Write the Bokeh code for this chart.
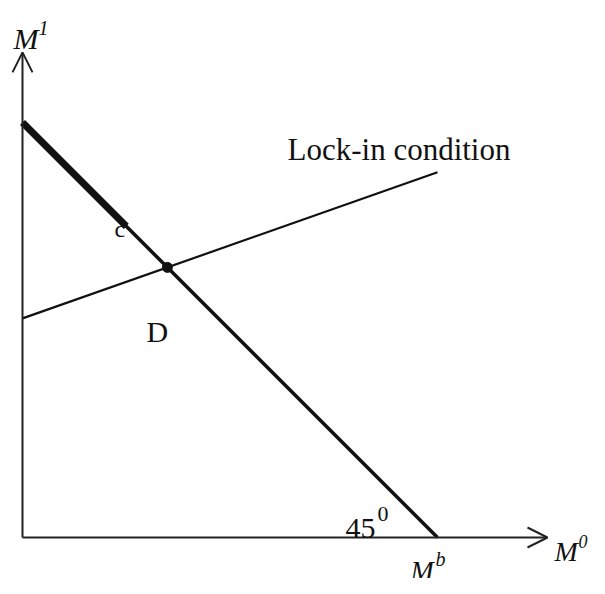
from bokeh.plotting import figure
from bokeh.models import Range1d, Arrow, OpenHead, Label
from bokeh.embed import file_html
from bokeh.resources import INLINE

# ---- data (abstract units) ----
m_b = 10.0                     # intercept of the 45-degree line on both axes
budget_x = [0.0, m_b]
budget_y = [m_b, 0.0]
thick_end_x = 2.5              # end of the emphasised part of the 45-degree line
lock_x = [0.0, 10.0]
lock_y = [5.28, 8.8]           # lock-in condition line
axis_x_max = 12.65
axis_y_max = 11.69

slope = (lock_y[1] - lock_y[0]) / (lock_x[1] - lock_x[0])
ix = (m_b - lock_y[0]) / (1.0 + slope)
iy = m_b - ix

# ---- layout helpers ----
W, H = 589, 578
S = 41.5            # px per unit
OX, OY = 22, 537    # origin in figure pixels


def d(px, py):
    """pixel position -> data coords"""
    return (px - OX) / S, (OY - py) / S


p = figure(width=W, height=H, output_backend="svg", toolbar_location=None,
           x_range=Range1d(-OX / S, (W - OX) / S),
           y_range=Range1d(-(H - OY) / S, OY / S),
           x_axis_location=None, y_axis_location=None,
           min_border=0, outline_line_color=None)
p.grid.visible = False
p.background_fill_color = "white"

# axes with open arrowheads
p.add_layout(Arrow(x_start=0, y_start=0, x_end=0, y_end=axis_y_max,
                   line_width=2, line_color="#222222",
                   end=OpenHead(size=20, line_width=2, line_color="#222222")))
p.add_layout(Arrow(x_start=0, y_start=0, x_end=axis_x_max, y_end=0,
                   line_width=2, line_color="#222222",
                   end=OpenHead(size=20, line_width=2, line_color="#222222")))

# 45-degree line
p.line(budget_x, budget_y, line_width=3.5, line_color="#111111")
p.line([0.0, thick_end_x], [m_b, m_b - thick_end_x], line_width=7, line_color="#111111")
# lock-in condition line
p.line(lock_x, lock_y, line_width=2.2, line_color="#111111")
# intersection point
p.scatter([ix], [iy], size=10, color="#111111")

SERIF = "Liberation Serif"


def lab(txt, px, py, size, style="normal", align="left", baseline="alphabetic"):
    x, y = d(px, py)
    p.add_layout(Label(x=x, y=y, text=txt, text_font=SERIF, text_font_size=f"{size}px",
                       text_font_style=style, text_align=align, text_baseline=baseline,
                       text_color="#111111"))


lab("M", 13, 38, 30, "italic")
lab("1", 38, 27, 20, "italic")
lab("Lock-in condition", 287, 149, 31)
lab("c", 114, 228, 24)
lab("D", 146, 331, 30)
lab("45", 345, 528, 30)
lab("0", 377, 513, 22)
lab("M", 554, 551, 28, "italic")
lab("0", 578, 541, 18, "italic")
lab("M", 410, 570, 28, "italic")
lab("b", 435, 558, 20, "italic")

open("out.html", "w").write(file_html(p, INLINE))
